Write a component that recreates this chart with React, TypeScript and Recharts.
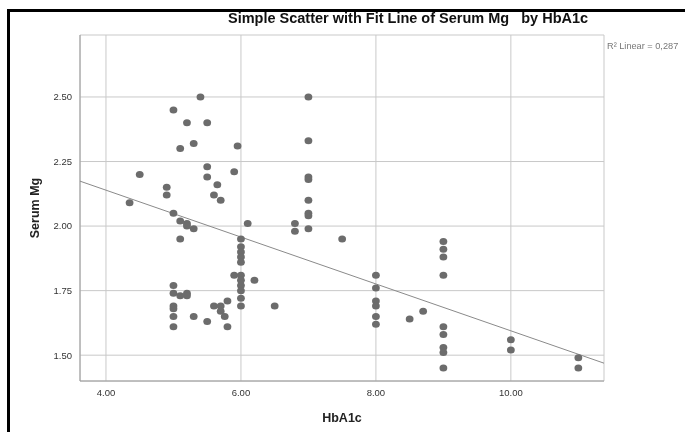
import React from "react";
import {
  ScatterChart,
  Scatter,
  XAxis,
  YAxis,
  CartesianGrid,
} from "recharts";

const hba1c = [
  4.35, 4.5, 4.9, 4.9,
  5.0, 5.0, 5.0, 5.0, 5.0, 5.0, 5.0, 5.0,
  5.1, 5.1, 5.1, 5.1,
  5.2, 5.2, 5.2, 5.2, 5.2,
  5.3, 5.3, 5.3,
  5.4,
  5.5, 5.5, 5.5, 5.5,
  5.6, 5.6, 5.65,
  5.7, 5.7, 5.7, 5.76,
  5.8, 5.8,
  5.9, 5.9, 5.95,
  6.0, 6.0, 6.0, 6.0, 6.0, 6.0, 6.0, 6.0, 6.0, 6.0, 6.0,
  6.1, 6.2, 6.5,
  6.8, 6.8,
  7.0, 7.0, 7.0, 7.0, 7.0, 7.0, 7.0, 7.0,
  7.5,
  8.0, 8.0, 8.0, 8.0, 8.0, 8.0,
  8.5, 8.7,
  9.0, 9.0, 9.0, 9.0, 9.0, 9.0, 9.0, 9.0, 9.0,
  10.0, 10.0,
  11.0, 11.0,
];

const serumMg = [
  2.09, 2.2, 2.15, 2.12,
  2.45, 2.05, 1.77, 1.74, 1.69, 1.68, 1.65, 1.61,
  2.3, 2.02, 1.95, 1.73,
  2.4, 2.01, 2.0, 1.74, 1.73,
  2.32, 1.99, 1.65,
  2.5,
  2.4, 2.23, 2.19, 1.63,
  2.12, 1.69, 2.16,
  2.1, 1.69, 1.67, 1.65,
  1.71, 1.61,
  2.21, 1.81, 2.31,
  1.95, 1.92, 1.9, 1.88, 1.86, 1.81, 1.79, 1.77, 1.75, 1.72, 1.69,
  2.01, 1.79, 1.69,
  2.01, 1.98,
  2.5, 2.33, 2.19, 2.18, 2.1, 2.05, 2.04, 1.99,
  1.95,
  1.81, 1.76, 1.71, 1.69, 1.65, 1.62,
  1.64, 1.67,
  1.94, 1.91, 1.88, 1.81, 1.61, 1.58, 1.53, 1.51, 1.45,
  1.56, 1.52,
  1.49, 1.45,
];

const fitX = [3.615, 11.38];
const fitY = [2.174, 1.469];

const xTicks = [4, 6, 8, 10];
const yTicks = [1.5, 1.75, 2.0, 2.25, 2.5];

const points = hba1c.map((x, i) => ({ x, y: serumMg[i] }));
const fitData = fitX.map((x, i) => ({ x, y: fitY[i] }));

const FONT = '"Liberation Sans", Arial, sans-serif';

const Dot = (props: any) => {
  const { cx, cy } = props;
  if (cx == null || cy == null) return null;
  return <ellipse cx={cx} cy={cy} rx={3.9} ry={3.5} fill="#6c6c6c" />;
};

export default function App() {
  return (
    <div
      style={{
        position: "relative",
        width: 669,
        height: 416,
        overflow: "hidden",
        fontFamily: FONT,
      }}
    >
      <div
        style={{
          position: "fixed",
          left: 7,
          top: 9,
          width: 678,
          height: 423,
          boxSizing: "border-box",
          borderLeft: "3px solid #000",
          borderTop: "3px solid #000",
          pointerEvents: "none",
        }}
      />
      <div
        style={{
          position: "absolute",
          left: 220,
          top: 2,
          fontSize: 14.5,
          fontWeight: "bold",
          color: "#111",
          whiteSpace: "pre",
        }}
      >
        {"Simple Scatter with Fit Line of Serum Mg   by HbA1c"}
      </div>
      <div
        style={{
          position: "fixed",
          left: 607,
          top: 41,
          fontSize: 9.2,
          color: "#777",
          whiteSpace: "pre",
          fontFamily: FONT,
        }}
      >
        {"R\u00B2 Linear = 0,287"}
      </div>
      <ScatterChart
        width={669}
        height={424}
        margin={{ top: 27, right: 73, bottom: 21, left: 32 }}
      >
        <CartesianGrid stroke="#c9c9c9" strokeWidth={1} />
        <XAxis
          type="number"
          dataKey="x"
          domain={[3.615, 11.38]}
          ticks={xTicks}
          tickFormatter={(v: number) => v.toFixed(2)}
          tickLine={false}
          axisLine={{ stroke: "#9a9a9a" }}
          height={30}
          tick={{ fontSize: 9.5, fill: "#333", fontFamily: FONT }}
          allowDataOverflow
          label={{
            value: "HbA1c",
            position: "insideBottom",
            offset: -11,
            style: { fontSize: 12.5, fontWeight: "bold", fill: "#222", fontFamily: FONT },
          }}
        />
        <YAxis
          type="number"
          dataKey="y"
          domain={[1.4, 2.74]}
          ticks={yTicks}
          tickFormatter={(v: number) => v.toFixed(2)}
          tickLine={false}
          axisLine={{ stroke: "#9a9a9a" }}
          width={40}
          tick={{ fontSize: 9.5, fill: "#333", fontFamily: FONT }}
          allowDataOverflow
          label={{
            value: "Serum Mg",
            angle: -90,
            position: "insideLeft",
            offset: -5,
            style: { fontSize: 12.5, fontWeight: "bold", fill: "#222", fontFamily: FONT, textAnchor: "middle" },
          }}
        />
        <Scatter
          data={fitData}
          line={{ stroke: "#8a8a8a", strokeWidth: 1 }}
          shape={() => null}
          isAnimationActive={false}
        />
        <Scatter data={points} shape={<Dot />} isAnimationActive={false} />
      </ScatterChart>
    </div>
  );
}
